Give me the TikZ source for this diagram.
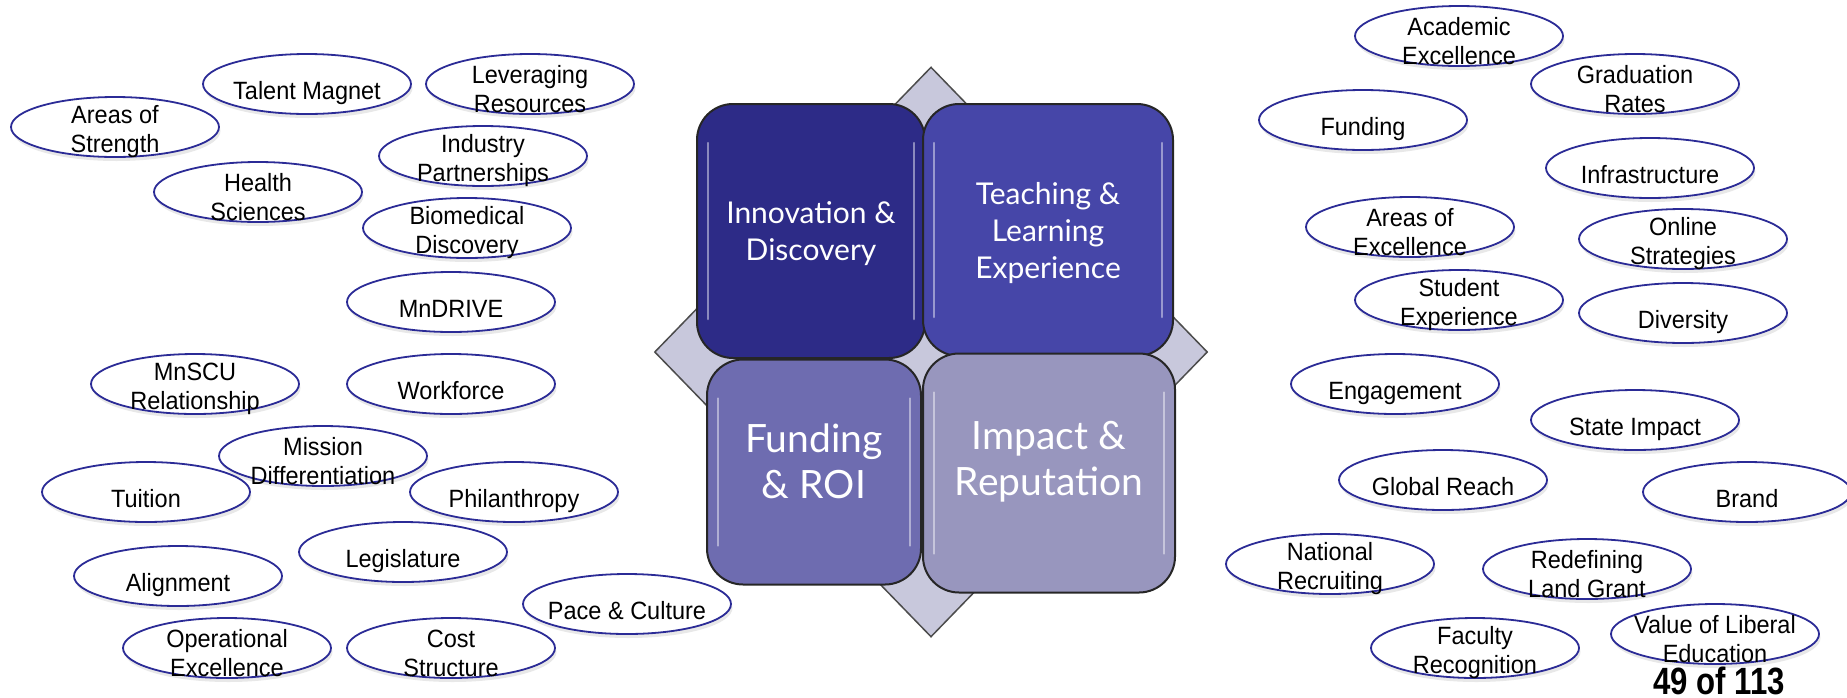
\documentclass[tikz,border=0pt]{standalone}
\usepackage{fontspec}
\setmainfont{Liberation Sans}
\newfontfamily\bubblefont{Liberation Sans}[FakeStretch=0.94]
\newfontfamily\pagefont{Liberation Sans}[FakeStretch=0.82]
\newfontfamily\quadfont{Lato}
\usetikzlibrary{shapes.geometric,shadows}
\definecolor{ovalblue}{RGB}{43,43,150}
\definecolor{innov}{RGB}{45,43,135}
\definecolor{teach}{RGB}{70,70,168}
\definecolor{fund}{RGB}{110,108,176}
\definecolor{impact}{RGB}{152,150,190}
\definecolor{frame}{RGB}{200,200,220}

\begin{document}
\begin{tikzpicture}[x=1pt,y=-1pt,
    bubble/.style={ellipse,draw=ovalblue,line width=1.8pt,fill=white,minimum width=208pt,minimum height=60pt,inner sep=0pt,
        drop shadow={shadow xshift=1.5pt,shadow yshift=-4pt,opacity=.18}},
    bubbletext/.style={font=\bubblefont\fontsize{25}{29}\selectfont,align=center,inner sep=0pt,yshift=-5pt},
    bubbleone/.style={font=\bubblefont\fontsize{25}{29}\selectfont,inner sep=0pt,text height=18pt,text depth=5pt,yshift=-9pt},
    quad/.style={rounded corners=36pt,draw=black!85,line width=2pt},
    quadtext/.style={text=white,align=center,inner sep=0pt,font=\quadfont\fontsize{30}{37}\selectfont,yshift=-3pt},
    bigtext/.style={quadtext,font=\quadfont\fontsize{39}{46}\selectfont,yshift=14pt},
    gloss/.style={white,opacity=.45,line width=2.5pt,line cap=round}]
            \useasboundingbox (0,0) rectangle (1847,697);
            % centre: diamond behind four rounded squares
            \node[diamond,draw=black!70,fill=frame,line width=1.5pt,minimum width=553pt,minimum height=570pt,inner sep=0pt] (frame) at (931,352) {};
            \node[quad,fill=innov,minimum width=228pt,minimum height=254pt,label={[quadtext]center:{Innovation \&\\Discovery}}] (innovation) at (811,231) {};
            \node[quad,fill=teach,minimum width=250pt,minimum height=252pt,label={[quadtext]center:{Teaching \&\\Learning\\Experience}}] (teaching) at (1048,230) {};
            \node[quad,fill=fund,minimum width=214pt,minimum height=225pt,label={[bigtext]center:{Funding\\\& ROI}}] (funding) at (814,472) {};
            \node[quad,fill=impact,minimum width=252pt,minimum height=239pt,label={[bigtext]center:{Impact \&\\Reputation}}] (impact) at (1049,473) {};
            \draw[gloss] ([xshift=12pt,yshift=-40pt]innovation.north west) -- ([xshift=12pt,yshift=40pt]innovation.south west);
            \draw[gloss] ([xshift=-12pt,yshift=-40pt]innovation.north east) -- ([xshift=-12pt,yshift=40pt]innovation.south east);
            \draw[gloss] ([xshift=12pt,yshift=-40pt]teaching.north west) -- ([xshift=12pt,yshift=40pt]teaching.south west);
            \draw[gloss] ([xshift=-12pt,yshift=-40pt]teaching.north east) -- ([xshift=-12pt,yshift=40pt]teaching.south east);
            \draw[gloss] ([xshift=12pt,yshift=-40pt]funding.north west) -- ([xshift=12pt,yshift=40pt]funding.south west);
            \draw[gloss] ([xshift=-12pt,yshift=-40pt]funding.north east) -- ([xshift=-12pt,yshift=40pt]funding.south east);
            \draw[gloss] ([xshift=12pt,yshift=-40pt]impact.north west) -- ([xshift=12pt,yshift=40pt]impact.south west);
            \draw[gloss] ([xshift=-12pt,yshift=-40pt]impact.north east) -- ([xshift=-12pt,yshift=40pt]impact.south east);
            % left cloud
            \node[bubble,label={[bubbletext]center:{Areas of\\Strength}}] (strength) at (115,127) {};
            \node[bubble,label={[bubbleone]center:{Talent Magnet}}] (talent) at (307,84) {};
            \node[bubble,label={[bubbletext]center:{Leveraging\\Resources}}] (leverage) at (530,84) {};
            \node[bubble,label={[bubbletext]center:{Industry\\Partnerships}}] (industry) at (483,156) {};
            \node[bubble,label={[bubbletext]center:{Health\\Sciences}}] (health) at (258,192) {};
            \node[bubble,label={[bubbletext]center:{Biomedical\\Discovery}}] (biomed) at (467,228) {};
            \node[bubble,label={[bubbleone]center:{MnDRIVE}}] (mndrive) at (451,302) {};
            \node[bubble,label={[bubbletext]center:{MnSCU\\Relationship}}] (mnscu) at (195,384) {};
            \node[bubble,label={[bubbleone]center:{Workforce}}] (workforce) at (451,384) {};
            \node[bubble,label={[bubbleone]center:{Tuition}}] (tuition) at (146,492) {};
            \node[bubble,label={[bubbletext]center:{Mission\\Differentiation}}] (mission) at (323,456) {};
            \node[bubble,label={[bubbleone]center:{Philanthropy}}] (philanthropy) at (514,492) {};
            \node[bubble,label={[bubbleone]center:{Legislature}}] (legislature) at (403,552) {};
            \node[bubble,label={[bubbleone]center:{Alignment}}] (alignment) at (178,576) {};
            \node[bubble,label={[bubbleone]center:{Pace \& Culture}}] (pace) at (627,604) {};
            \node[bubble,label={[bubbletext]center:{Operational\\Excellence}}] (operational) at (227,648) {};
            \node[bubble,label={[bubbletext]center:{Cost\\Structure}}] (cost) at (451,648) {};
            % right cloud
            \node[bubble,label={[bubbletext]center:{Academic\\Excellence}}] (academic) at (1459,36) {};
            \node[bubble,label={[bubbletext]center:{Graduation\\Rates}}] (graduation) at (1635,84) {};
            \node[bubble,label={[bubbleone]center:{Funding}}] (funds) at (1363,120) {};
            \node[bubble,label={[bubbleone]center:{Infrastructure}}] (infra) at (1650,168) {};
            \node[bubble,label={[bubbletext]center:{Areas of\\Excellence}}] (excellence) at (1410,227) {};
            \node[bubble,label={[bubbletext]center:{Online\\Strategies}}] (online) at (1683,239) {};
            \node[bubble,label={[bubbletext]center:{Student\\Experience}}] (student) at (1459,300) {};
            \node[bubble,label={[bubbleone]center:{Diversity}}] (diversity) at (1683,313) {};
            \node[bubble,label={[bubbleone]center:{Engagement}}] (engagement) at (1395,384) {};
            \node[bubble,label={[bubbleone]center:{State Impact}}] (stateimpact) at (1635,420) {};
            \node[bubble,label={[bubbleone]center:{Global Reach}}] (global) at (1443,480) {};
            \node[bubble,label={[bubbleone]center:{Brand}}] (brand) at (1747,492) {};
            \node[bubble,label={[bubbletext]center:{National\\Recruiting}}] (national) at (1330,564) {};
            \node[bubble,label={[bubbletext]center:{Redefining\\Land Grant}}] (landgrant) at (1587,569) {};
            \node[bubble,label={[bubbletext]center:{Faculty\\Recognition}}] (faculty) at (1475,648) {};
            \node[bubble,label={[bubbletext]center:{Value of Liberal\\Education}}] (liberal) at (1715,634) {};
            \node[font=\pagefont\bfseries\fontsize{38}{42}\selectfont,inner sep=0pt,anchor=base] (pagenum) at (1719,694) {49 of 113};
\end{tikzpicture}
\end{document}
